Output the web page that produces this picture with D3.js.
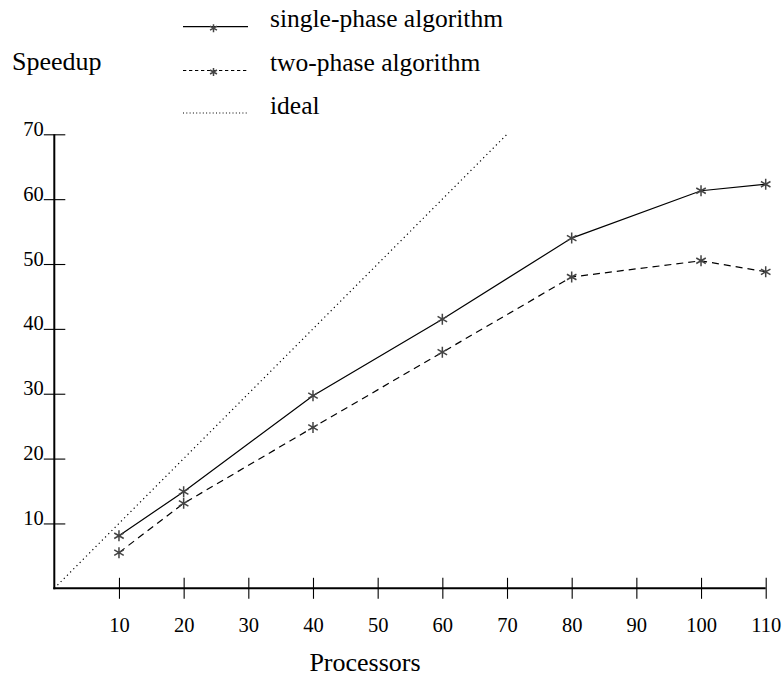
<!DOCTYPE html>
<html>
<head>
<meta charset="utf-8">
<script src="https://cdn.jsdelivr.net/npm/d3@7"></script>
<style>
  html, body { margin: 0; padding: 0; background: #fff; }
  svg { display: block; font-family: "Liberation Serif", "Times New Roman", serif; }
</style>
</head>
<body>
<svg id="chart" width="784" height="679"></svg>
<script>
// Processor counts measured
const processors = [10, 20, 40, 60, 80, 100, 110];
// Speedup of each algorithm at those processor counts
const singlePhase = [8.1, 14.9, 29.7, 41.5, 54.0, 61.3, 62.3];
const twoPhase = [5.5, 13.1, 24.8, 36.4, 48.0, 50.5, 48.8];
// Linear (ideal) speedup reference
const idealX = [0, 70];
const xTicks = [10, 20, 30, 40, 50, 60, 70, 80, 90, 100, 110];
const yTicks = [10, 20, 30, 40, 50, 60, 70];
const legendLabels = ["single-phase algorithm", "two-phase algorithm", "ideal"];

const FONT = '"Liberation Serif", "Times New Roman", serif';
const svg = d3.select("#chart");

const x = d3.scaleLinear().domain([0, 110]).range([54.3, 765.7]);
const y = d3.scaleLinear().domain([0, 70]).range([588.3, 134.3]);

// Axes: ticks cross the axis line on both sides
const xAxis = svg.append("g")
  .attr("transform", `translate(0,${y(0)})`)
  .call(d3.axisBottom(x).tickValues(xTicks).tickSize(0).tickPadding(0))
  .attr("font-family", FONT).attr("font-size", 20.5);
xAxis.select(".domain").remove();
xAxis.selectAll(".tick line").attr("y1", -10.5).attr("y2", 10.5)
  .attr("stroke", "#000").attr("stroke-width", 1.1);
xAxis.selectAll(".tick text").attr("y", 43.3).attr("dy", null).attr("fill", "#000");
xAxis.append("line").attr("x1", x(0) - 1).attr("x2", x(110)).attr("y1", 0).attr("y2", 0)
  .attr("stroke", "#000").attr("stroke-width", 2);

const yAxis = svg.append("g")
  .attr("transform", `translate(${x(0)},0)`)
  .call(d3.axisLeft(y).tickValues(yTicks).tickSize(0).tickPadding(0))
  .attr("font-family", FONT).attr("font-size", 20.5);
yAxis.select(".domain").remove();
yAxis.selectAll(".tick line").attr("x1", -10.5).attr("x2", 11)
  .attr("stroke", "#000").attr("stroke-width", 1.1);
yAxis.selectAll(".tick text").attr("x", -10.5).attr("dy", "0.05em")
  .attr("text-anchor", "end").attr("fill", "#000");
yAxis.append("line").attr("x1", 0).attr("x2", 0).attr("y1", y(70)).attr("y2", y(0) + 1)
  .attr("stroke", "#000").attr("stroke-width", 2);

// Axis titles
svg.append("text").attr("x", 12).attr("y", 70).style("font-size", "26px").text("Speedup");
svg.append("text").attr("x", 365).attr("y", 671).attr("text-anchor", "middle")
  .style("font-size", "26px").text("Processors");

// Ideal speedup line
const line = d3.line().x(d => x(d[0])).y(d => y(d[1]));
svg.append("path")
  .datum(idealX.map(v => [v, v]))
  .attr("d", line)
  .attr("fill", "none").attr("stroke", "#000").attr("stroke-width", 1.2)
  .attr("stroke-dasharray", "1.2,3.3");

// Asterisk marker: three strokes through the centre
function asterisk(sel, r) {
  const arms = [90, 30, 150].map(a => a * Math.PI / 180);
  const d = arms.map(a =>
    `M${(-r * Math.cos(a)).toFixed(2)},${(-r * Math.sin(a)).toFixed(2)}L${(r * Math.cos(a)).toFixed(2)},${(r * Math.sin(a)).toFixed(2)}`
  ).join("");
  sel.append("path").attr("d", d).attr("stroke", "#444").attr("stroke-width", 1.5).attr("fill", "none");
}

const series = [
  { values: singlePhase, dash: null },
  { values: twoPhase, dash: "7,5" }
];

series.forEach(s => {
  const pts = processors.map((p, i) => [p, s.values[i]]);
  svg.append("path")
    .datum(pts)
    .attr("d", line)
    .attr("fill", "none").attr("stroke", "#000").attr("stroke-width", 1.2)
    .attr("stroke-dasharray", s.dash);
  svg.append("g").selectAll("g.mark")
    .data(pts)
    .join("g")
    .attr("class", "mark")
    .attr("transform", d => `translate(${x(d[0])},${y(d[1])})`)
    .each(function () { asterisk(d3.select(this), 5.5); });
});

// Legend
const legendRows = [
  { y: 26.7, dash: null, star: true },
  { y: 70.5, dash: "3.3,2.7", star: true },
  { y: 113, dash: "1,2.3", star: false }
];
legendRows.forEach((r, i) => {
  const g = svg.append("g");
  g.append("line").attr("x1", 183).attr("x2", 248).attr("y1", r.y).attr("y2", r.y)
    .attr("stroke", "#000").attr("stroke-width", r.star ? 1.2 : 1.1)
    .attr("stroke-dasharray", r.dash);
  if (r.star) {
    const m = g.append("g").attr("transform", `translate(213.5,${r.y + 1.5})`);
    asterisk(m, 4);
  }
  g.append("text").attr("x", 270).attr("y", r.y + 0.5).style("font-size", "25.5px").text(legendLabels[i]);
});
</script>
</body>
</html>
